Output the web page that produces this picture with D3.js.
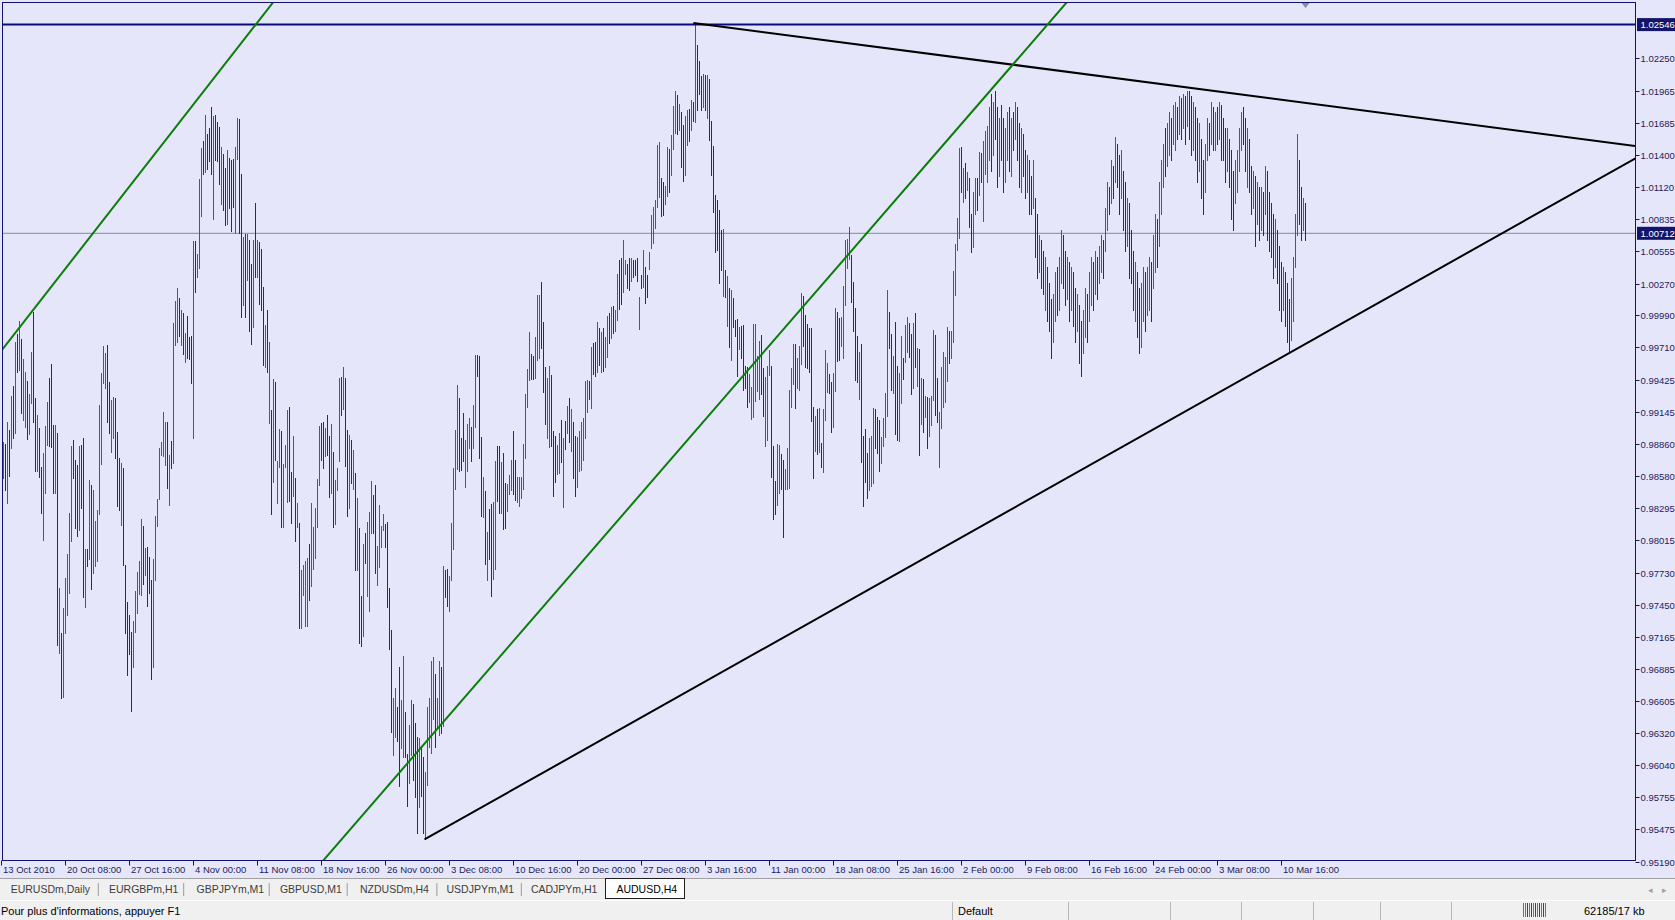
<!DOCTYPE html>
<html><head><meta charset="utf-8">
<script src="https://cdn.jsdelivr.net/npm/d3@7"></script>
<style>
html,body{margin:0;padding:0;background:#E6E6FA;overflow:hidden}
svg{display:block}
</style></head><body>
<svg id="c" width="1675" height="920"></svg>
<script>
// ---- DATA: AUDUSD H4 bars (high / low) ----
const highs = [
0.98881,0.98861,0.99057,0.98984,0.99283,0.99370,0.99760,0.99824,0.99942,0.99780,
0.99605,0.99496,0.99417,0.99300,0.99672,1.00024,0.99262,0.99116,0.98998,0.98662,
0.98779,0.99019,0.99233,0.99438,0.99564,0.99028,0.99028,0.98960,0.97598,0.97203,
0.97417,0.97680,0.97894,0.98257,0.98843,0.98896,0.98720,0.98676,0.98843,0.98852,
0.98910,0.97935,0.97935,0.98544,0.98500,0.98456,0.98187,0.98281,0.99203,0.99482,
0.99722,0.99657,0.99731,0.99408,0.99247,0.99277,0.99262,0.98969,0.98735,0.98691,
0.98647,0.97797,0.97475,0.97358,0.97212,0.97305,0.97569,0.97739,0.97835,0.98199,
0.98140,0.97944,0.97953,0.97871,0.97666,0.97847,0.98228,0.98374,0.98823,0.98881,
0.99145,0.99057,
0.99053,0.98766,0.98890,0.99923,1.00114,1.00231,1.00145,1.00040,1.00009,0.99836,
0.99984,0.99799,0.99806,1.00647,1.00647,1.00533,1.01187,1.01464,1.01526,1.01748,
1.01588,1.01634,1.01819,1.01742,1.01748,1.01687,1.01643,1.01471,1.01409,1.01286,
1.01440,1.01372,1.01357,1.01366,1.01471,1.01727,1.01717,1.01233,1.00678,1.00709,
1.00709,1.00657,1.00441,1.00657,1.00977,1.00657,1.00638,1.00570,1.00237,0.99907,
1.00040,0.99753,0.99158,0.99436,0.99405,0.98714,0.98992,0.98973,0.98683,0.98850,
0.99158,0.99189,0.98612,0.98930,0.98560,0.98344,0.98165,0.97749,0.97795,0.97832,
0.97863,0.97980,0.98344,0.98128,0.98295,0.98551,0.99022,0.99044,0.99053,0.99004,
0.99115,0.98930,
0.99036,0.98793,0.98544,0.98646,0.99437,0.99446,0.99540,0.99437,0.98983,0.98939,
0.98895,0.98807,0.98608,0.98383,0.98119,0.97524,0.97981,0.98075,0.98177,0.98265,
0.98538,0.98412,0.98500,0.97964,0.98324,0.98139,0.98245,0.98157,0.98177,0.97592,
0.97225,0.96625,0.96713,0.96546,0.96903,0.96610,0.96997,0.96508,0.96136,0.96391,
0.96610,0.96575,0.96405,0.96282,0.96273,0.96206,0.96112,0.95980,0.96546,0.96625,
0.96956,0.96991,0.96839,0.96625,0.96956,0.96903,0.97788,0.97753,0.97759,0.97700,
0.98163,0.98646,0.98983,0.99378,0.99261,0.98910,0.99135,0.98895,0.99036,0.99086,
0.99012,0.99203,0.99642,0.99642,0.99633,0.98919,0.98567,0.98450,0.98090,0.98286,
0.98333,0.98353,
0.98711,0.98846,0.98846,0.98699,0.98778,0.98515,0.98506,0.98588,0.98720,0.98975,
0.98720,0.98573,0.98573,0.98573,0.98858,0.99297,0.99520,0.99842,0.99648,0.99637,
0.99804,1.00170,1.00170,1.00287,0.99930,0.99540,0.99438,0.99549,0.99467,0.98975,
0.98934,0.98852,0.98954,0.99071,0.98916,0.99063,0.99197,0.99268,0.99168,0.99057,
0.98934,0.98925,0.98975,0.99051,0.99092,0.99414,0.99423,0.99414,0.99716,0.99745,
0.99760,0.99930,0.99877,0.99848,0.99883,0.99804,0.99988,1.00009,1.00067,1.00076,
1.00038,1.00352,1.00477,1.00492,1.00653,1.00477,1.00439,1.00492,1.00492,1.00477,
1.00477,1.00492,1.00155,1.00346,1.00565,1.00419,1.00346,1.00545,1.00873,1.00943,
1.01004,
1.01491,1.01515,1.01197,1.01161,1.01131,1.01467,1.01455,1.01575,1.01827,1.01964,
1.01925,1.01844,1.01776,1.01665,1.01746,1.01797,1.01806,1.01880,1.01865,1.02550,
1.02367,1.02229,1.02094,1.02112,1.02103,1.02103,1.02068,1.01701,1.01476,1.01047,
1.01005,1.00921,1.00741,1.00747,1.00387,1.00336,1.00231,1.00216,1.00141,0.99947,
0.99962,0.99887,0.99896,0.99902,0.99542,0.99536,0.99476,0.99362,0.99917,0.99917,
0.99638,0.99767,0.99818,0.99527,0.99446,0.99542,0.99686,0.99548,0.98846,0.98537,
0.98858,0.98852,0.98777,0.98717,0.98642,0.98822,0.99332,0.99527,0.99737,0.99737,
0.99617,0.99722,1.00186,1.00165,0.99998,0.99917,0.99878,0.99878,0.99182,0.99107,
0.99167,0.99176,0.98867,
0.99168,0.99686,0.99569,0.99473,0.99402,0.99481,1.00053,1.00017,0.99971,0.99979,
1.00252,1.00653,1.00662,1.00770,1.00521,1.00287,1.00058,0.99812,0.99672,0.99736,
0.98934,0.98992,0.98778,0.98916,0.98934,0.99180,0.99168,0.99101,0.99071,0.98925,
0.99092,0.99306,1.00214,1.00017,0.99824,0.99637,0.99935,0.99549,0.99481,0.99812,
0.99619,0.99906,0.99979,0.99921,0.99824,0.99921,1.00009,0.99707,0.99695,0.99443,
0.99432,0.99285,0.99276,0.99267,0.99285,0.99862,0.99818,0.99443,0.99144,0.99540,
0.99666,0.99628,0.99891,0.99853,0.99853,1.00381,1.00615,1.00843,1.01464,1.01473,
1.01289,1.01327,1.01254,1.01195,1.00879,1.01078,1.01195,1.01195,1.01423,1.01415,
1.01523,1.01611,
1.01654,1.01823,1.01936,1.01870,1.01964,1.01823,1.01729,1.01842,1.01729,1.01635,
1.01776,1.01823,1.01729,1.01776,1.01870,1.01823,1.01682,1.01635,1.01588,1.01447,
1.01400,1.01353,1.01213,1.01353,1.01025,1.00884,1.00696,1.00649,1.00555,1.00508,
1.00414,1.00274,1.00133,1.00180,1.00368,1.00414,1.00508,1.00743,1.00696,1.00555,
1.00508,1.00461,1.00414,1.00368,1.00227,1.00180,1.00086,0.99945,1.00039,1.00227,
1.00180,1.00368,1.00508,1.00461,1.00555,1.00508,1.00602,1.00696,1.00649,1.00931,
1.01166,1.01119,1.01353,1.01307,1.01560,1.01494,1.01400,1.01447,1.01260,1.01166,
1.01025,1.00978,1.00743,1.00555,1.00461,1.00368,1.00227,1.00274,1.00414,1.00368,
1.00414,1.00508,1.00461,1.00696,1.00884,1.00837,1.01166,1.01353,1.01494,1.01635,
1.01682,1.01776,1.01729,1.01842,1.01870,1.01823,1.01917,1.01898,1.01936,1.01917,
1.01964,1.01964,1.01917,1.01870,1.01823,1.01729,1.01682,1.01541,1.01353,1.01494,
1.01729,1.01682,1.01870,1.01823,1.01776,1.01823,1.01870,1.01842,1.01729,1.01635,
1.01635,1.01541,1.01447,1.01260,1.01353,1.01447,1.01635,1.01776,1.01823,1.01729,
1.01635,1.01541,1.01307,1.01260,1.01213,1.01166,1.01119,1.01119,1.01072,1.01307,
1.01260,1.01072,1.00978,1.00884,1.00837,1.00743,1.00602,1.00461,1.00414,1.00368,
1.00274,1.00133,1.00321,1.00508,1.00884,1.01588,1.01353,1.01119,1.01025,1.00978
];
const lows = [
0.98559,0.98456,0.98339,0.98582,0.98823,0.98910,0.98954,0.99496,0.99511,0.99130,
0.99072,0.99007,0.98902,0.98949,0.99224,0.99057,0.98626,0.98626,0.98574,0.98257,
0.98017,0.98433,0.98852,0.98843,0.98837,0.98427,0.98433,0.97094,0.97027,0.96626,
0.96640,0.97203,0.97358,0.97548,0.98011,0.98559,0.98120,0.98052,0.98105,0.98295,
0.97513,0.97425,0.97789,0.97847,0.97584,0.97730,0.97789,0.97835,0.98246,0.98685,
0.99394,0.99350,0.99057,0.98960,0.98793,0.98910,0.98735,0.98316,0.98281,0.98149,
0.97797,0.97197,0.96831,0.97015,0.96517,0.96904,0.97212,0.97373,0.97543,0.97534,
0.97630,0.97709,0.97437,0.97554,0.96793,0.96904,0.97666,0.98140,0.98374,0.98764,
0.98755,0.98676,
0.98474,0.98326,0.98652,0.98695,0.99731,0.99753,0.99806,0.99731,0.99651,0.99583,
0.99620,0.99608,0.99398,0.98911,1.00194,1.00324,1.00410,1.00863,1.01233,1.01255,
1.01273,1.01347,1.01233,1.00842,1.01357,1.01347,1.01141,1.00971,1.00916,1.00786,
1.00792,1.00934,1.00731,1.00940,1.00718,1.01366,1.00718,0.99978,1.00083,0.99978,
1.00299,0.99855,0.99738,0.99886,1.00330,1.00330,1.00092,1.00040,0.99559,0.99537,
0.99491,0.99044,0.98242,0.98529,0.98720,0.98344,0.98659,0.98128,0.98128,0.98659,
0.98350,0.98356,0.98165,0.98406,0.98005,0.98134,0.97246,0.97246,0.97533,0.97265,
0.97265,0.97487,0.97616,0.97758,0.97863,0.98134,0.98504,0.98720,0.98652,0.98757,
0.98766,0.98396,
0.98432,0.98128,0.98157,0.98456,0.98714,0.99115,0.99165,0.98667,0.98227,0.98295,
0.98514,0.98462,0.97753,0.97753,0.97114,0.97085,0.97173,0.97811,0.97524,0.97395,
0.98075,0.98081,0.97723,0.97621,0.97782,0.97952,0.98104,0.97952,0.97425,0.97056,
0.96332,0.96127,0.96282,0.96253,0.95855,0.96186,0.96112,0.96106,0.95679,0.95878,
0.96127,0.95907,0.95761,0.95444,0.95667,0.95767,0.95439,0.95386,0.95863,0.96200,
0.96142,0.96440,0.96200,0.96370,0.96303,0.96317,0.96382,0.97513,0.97436,0.97395,
0.97665,0.97934,0.98462,0.98637,0.98626,0.98632,0.98714,0.98485,0.98626,0.98822,
0.98714,0.98822,0.99006,0.99458,0.98734,0.98227,0.98221,0.97805,0.97665,0.97846,
0.97524,0.97671,
0.97762,0.98360,0.98251,0.98251,0.98114,0.98119,0.98272,0.98418,0.98456,0.98418,
0.98368,0.98348,0.98319,0.98389,0.98465,0.98740,0.99189,0.99423,0.99432,0.99432,
0.99443,0.99599,0.99619,0.99707,0.99315,0.99033,0.98910,0.98837,0.98846,0.98406,
0.98524,0.98594,0.98603,0.98699,0.98310,0.98817,0.98954,0.98875,0.98799,0.98559,
0.98406,0.98486,0.98623,0.98632,0.98720,0.98916,0.99145,0.99256,0.99174,0.99473,
0.99461,0.99496,0.99555,0.99496,0.99502,0.99540,0.99628,0.99745,0.99789,0.99833,
0.99854,0.99950,1.00047,1.00088,1.00199,1.00352,1.00234,1.00214,1.00293,1.00331,
1.00346,1.00293,0.99871,1.00234,1.00243,1.00097,1.00155,1.00398,1.00580,1.00624,
1.00759,
1.00945,1.01035,1.00861,1.00876,1.00966,1.01041,1.01077,1.01221,1.01455,1.01596,
1.01587,1.01617,1.01296,1.01176,1.01227,1.01491,1.01521,1.01617,1.01701,1.01693,
1.01795,1.01936,1.01795,1.01819,1.01795,1.01722,1.01536,1.01221,1.00897,1.00546,
1.00561,1.00276,1.00387,1.00165,1.00156,0.99896,0.99716,0.99596,0.99887,0.99812,
0.99458,0.99692,0.99617,0.99332,0.99356,0.99188,0.99227,0.99077,0.99098,0.99236,
0.99326,0.99257,0.99296,0.99107,0.98846,0.98897,0.99467,0.98567,0.98199,0.98247,
0.98327,0.98426,0.98462,0.98043,0.98468,0.98468,0.98477,0.99182,0.99392,0.99176,
0.99356,0.99332,0.99566,0.99722,0.99536,0.99527,0.99497,0.99062,0.98558,0.98798,
0.98777,0.98786,0.98657,
0.98617,0.99071,0.99314,0.99306,0.98969,0.99013,0.99326,0.99590,0.99598,0.99724,
0.99619,1.00082,1.00404,1.00486,1.00111,0.99853,0.99423,0.99402,0.99256,0.98705,
0.98318,0.98523,0.98389,0.98456,0.98494,0.98515,0.98828,0.98778,0.98623,0.98690,
0.98846,0.98925,0.99109,0.99701,0.99335,0.99306,0.98945,0.98895,0.98887,0.99218,
0.99432,0.99578,0.99666,0.99628,0.99297,0.99355,0.99540,0.99373,0.98764,0.99033,
0.98969,0.99101,0.98828,0.98934,0.99027,0.99247,0.99115,0.99057,0.98661,0.99004,
0.99188,0.99226,0.99414,0.99569,0.99619,0.99754,1.00170,1.00565,1.00668,1.01078,
1.00990,1.01025,1.01092,1.00770,1.00545,1.00594,1.00879,1.00917,1.01049,1.01160,
1.00820,1.01230,
1.01166,1.01353,1.01260,1.01400,1.01541,1.01119,1.01213,1.01353,1.01072,1.01166,
1.01353,1.01260,1.01213,1.01447,1.01541,1.01353,1.01119,1.01072,1.01213,1.01025,
1.01072,1.00884,1.00884,1.00931,1.00508,1.00321,1.00368,1.00227,1.00180,1.00039,
0.99945,0.99851,0.99616,0.99757,0.99945,0.99992,1.00039,1.00274,1.00227,1.00086,
1.00133,0.99945,1.00039,0.99898,0.99757,0.99851,0.99569,0.99457,0.99663,0.99804,
0.99757,0.99945,1.00086,1.00039,1.00180,1.00133,1.00274,1.00368,1.00321,1.00555,
1.00743,1.00884,1.00978,1.01025,1.01166,1.01119,1.00884,1.01025,1.00743,1.00555,
1.00602,1.00321,1.00274,1.00039,0.99945,0.99804,0.99663,0.99710,0.99945,0.99851,
0.99992,1.00039,0.99945,1.00227,1.00368,1.00414,1.00602,1.00884,1.01119,1.01213,
1.01307,1.01400,1.01353,1.01494,1.01447,1.01541,1.01588,1.01541,1.01635,1.01494,
1.01654,1.01541,1.01400,1.01447,1.01353,1.01166,1.01260,1.01025,1.00884,1.01072,
1.01353,1.01400,1.01494,1.01447,1.01447,1.01494,1.01541,1.01353,1.01353,1.01166,
1.01260,1.01119,1.00837,1.00743,1.00978,1.01072,1.01260,1.01447,1.01494,1.01260,
1.01119,1.01072,1.00884,1.00931,1.00602,1.00790,1.00649,1.00743,1.00696,1.00884,
1.00649,1.00555,1.00508,1.00321,1.00414,1.00274,1.00039,0.99945,1.00039,0.99898,
0.99757,0.99670,0.99776,0.99945,1.00414,1.00696,1.00790,1.00649,1.00743,1.00649
];
// bar direction: g = bullish (close > open), r = bearish
const dirs = (
"grgrgrgrgr"+"ggrggrrgrr"+"gggrrrgrgr"+"gggggrrrgr"+"rgrgrggggg"+"ggrrggrrrg"+"rrrrrggggg"+"rgrrrggggg"+
"ggrgrgggrg"+"rgrrrgrggg"+"rgrrrgrrrg"+"rrgrrrggrr"+"grgrrgrgrr"+"rgrgrgrggr"+"gggrrgrgrg"+"gggrgggggr"+
"rgrrgrgggr"+"grrgrgrgrr"+"grgggrrggg"+"grrrrggrrg"+"grrggrrrgr"+"rgggggrggr"+"grrgggggrr"+"rgggrggrrr"+
"grgrrggrrg"+"rrgggrrggg"+"ggggrrgggr"+"rrggrrrggr"+"grgrgrrggg"+"gggrgrrgrg"+"rggrgrggrr"+"ggrrgrrrgr"+
"grrggggggr"+"rggrgggrgr"+"rggrgrgrrr"+"grgrrrrrrr"+"grgrgrrrgr"+"rrrggggggr"+"rgggrrrggr"+"rgggggrggg"+
"rrrrrrgrgr"+"gggrrggrrg"+"ggggrrrrgr"+"rrrgggrrrg"+"gggrrgrrgg"+"rggrrgrgrg"+"rgrgggrrgg"+"gggrgggggr"+
"grgrrggrgr"+"gg"+
"ggrgrrgrrg"+"grgrgrrgrr"+"grrgrrgrrg"+"rrrggrggrr"+"grgrrgrrgg"+"rggrgrggrg"+"grgrgrrgrr"+"grrrgrrggr"+
"ggrggrgggr"+"ggrggrgrgr"+"grrgrrgrrg"+"grgrgrgrrr"+"grrrggggrr"+"grrgrgrgrg"+"rrrrgrrrgr"+"rrggggrrgr");

const priceTicks = [1.02250,1.01965,1.01685,1.01400,1.01120,1.00835,1.00555,1.00270,0.99990,0.99710,
  0.99425,0.99145,0.98860,0.98580,0.98295,0.98015,0.97730,0.97450,0.97165,0.96885,0.96605,0.96320,
  0.96040,0.95755,0.95475,0.95190];
const levelLine = 1.02546;   // horizontal line (navy)
const bidLine = 1.00712;     // current price line (grey)
const timeLabels = ["13 Oct 2010","20 Oct 08:00","27 Oct 16:00","4 Nov 00:00","11 Nov 08:00","18 Nov 16:00",
  "26 Nov 00:00","3 Dec 08:00","10 Dec 16:00","20 Dec 00:00","27 Dec 08:00","3 Jan 16:00","11 Jan 00:00",
  "18 Jan 08:00","25 Jan 16:00","2 Feb 00:00","9 Feb 08:00","16 Feb 16:00","24 Feb 00:00","3 Mar 08:00","10 Mar 16:00"];
const barsPerLabel = 32;
// trend lines: [bar, price] anchors
const trendLines = [
  {a:[210.5,0.95386], b:[816.25,1.01374], color:"#000000", ray:"right"},
  {a:[344.9,1.02560], b:[816.25,1.01479], color:"#000000", ray:"right"},
  {a:[-0.4,0.99695],  b:[134.45,1.02734], color:"#0a7d0a", ray:"both"},
  {a:[160.1,0.95205], b:[531.25,1.02734], color:"#0a7d0a", ray:"both"}
];
const tabs = ["EURUSDm,Daily","EURGBPm,H1","GBPJPYm,M1","GBPUSD,M1","NZDUSDm,H4","USDJPYm,M1","CADJPYm,H1","AUDUSD,H4"];
const activeTab = "AUDUSD,H4";
const statusLeft = "Pour plus d'informations, appuyer F1";
const statusProfile = "Default";
const statusTraffic = "62185/17 kb";

// ---- LAYOUT ----
const svg = d3.select("#c");
const P = {l:2.5, r:1635.5, t:2.5, b:860.5};
const nBars = highs.length;
const x = d3.scaleLinear().domain([0, nBars-1]).range([3.5, 3.5 + 2*(nBars-1)]);
const y = d3.scaleLinear().domain([0.95190, 1.02546]).range([861.7, 24.6]);
const FONT = "'Liberation Sans', Arial, sans-serif";

svg.append("rect").attr("width",1675).attr("height",920).attr("fill","#E6E6FA");
svg.append("clipPath").attr("id","clip").append("rect")
  .attr("x",P.l+0.5).attr("y",P.t+0.5).attr("width",P.r-P.l-1).attr("height",P.b-P.t-1);

const plot = svg.append("g").attr("clip-path","url(#clip)");

// current price line
plot.append("line").attr("x1",P.l).attr("x2",P.r).attr("y1",y(bidLine)).attr("y2",y(bidLine))
  .attr("stroke","#7f8aa0").attr("stroke-width",1);

// bars
const bars = highs.map((h,i)=>({i, h, l:lows[i], d:dirs[i]}));
plot.append("g").attr("shape-rendering","crispEdges").selectAll("line").data(bars).join("line")
  .attr("x1",d=>x(d.i)).attr("x2",d=>x(d.i))
  .attr("y1",d=>Math.round(y(d.h))).attr("y2",d=>Math.round(y(d.l))+1)
  .attr("stroke",d=>d.d==="g"?"#128a12":"#8b0b0b").attr("stroke-width",1);

plot.append("line").attr("x1",P.l).attr("x2",P.r).attr("y1",y(levelLine)).attr("y2",y(levelLine))
  .attr("stroke","#0a0a80").attr("stroke-width",2);

// trend lines
trendLines.forEach(t=>{
  const x1=x(t.a[0]), y1=y(t.a[1]), x2=x(t.b[0]), y2=y(t.b[1]);
  const s=(y2-y1)/(x2-x1);
  const xs = t.ray==="both" ? P.l-5 : x1;
  const xe = P.r+5;
  plot.append("line").attr("x1",xs).attr("y1",y1+s*(xs-x1)).attr("x2",xe).attr("y2",y1+s*(xe-x1))
    .attr("stroke",t.color).attr("stroke-width",2);
});

// frame
svg.append("rect").attr("x",P.l).attr("y",P.t).attr("width",P.r-P.l).attr("height",P.b-P.t)
  .attr("fill","none").attr("stroke","#141466").attr("stroke-width",1);

// chart-shift marker
svg.append("path").attr("d",`M${x(nBars-1)-4},3 L${x(nBars-1)+4},3 L${x(nBars-1)},8 Z`).attr("fill","#8a8aa8");

// price axis
const pa = svg.append("g").attr("font-family",FONT).attr("font-size","9.5px");
priceTicks.forEach(p=>{
  const yy = Math.round(y(p))+0.5;
  pa.append("line").attr("x1",P.r).attr("x2",P.r+4).attr("y1",yy).attr("y2",yy).attr("stroke","#141466");
  pa.append("text").attr("x",P.r+5).attr("y",yy).attr("dy","0.35em").attr("fill","#1c1c5c").text(p.toFixed(5));
});
[levelLine,bidLine].forEach(p=>{
  const yy = y(p);
  pa.append("rect").attr("x",P.r+1.5).attr("y",yy-6.5).attr("width",40).attr("height",13).attr("fill","#14146a");
  pa.append("text").attr("x",P.r+5).attr("y",yy).attr("dy","0.35em").attr("fill","#ffffff").text(p.toFixed(5));
});

// time axis
const ta = svg.append("g").attr("font-family",FONT).attr("font-size","9.5px");
timeLabels.forEach((t,k)=>{
  const xx = Math.round(x(k*barsPerLabel))-2.5;
  ta.append("line").attr("x1",xx).attr("x2",xx).attr("y1",P.b).attr("y2",P.b+5).attr("stroke","#141466");
  ta.append("text").attr("x",xx+1.5).attr("y",873).attr("fill","#1c1c5c").text(t);
});

// tab strip
const tb = svg.append("g").attr("font-family",FONT).attr("font-size","10.5px");
tb.append("rect").attr("x",0).attr("y",878).attr("width",1675).attr("height",22).attr("fill","#f0f0f0");
tb.append("line").attr("x1",0).attr("x2",1675).attr("y1",878.5).attr("y2",878.5).attr("stroke","#a0a0a0");
const tabX = [10.7,109,196.5,279.9,360,446.5,530.9,616.4];
const divX = [98.3,183.7,269.2,347.2,436.9,521.3,604.6];
tb.append("rect").attr("x",605.5).attr("y",878.5).attr("width",79).attr("height",20).attr("fill","#ffffff").attr("stroke","#202020");
tabs.forEach((t,i)=>{
  tb.append("text").attr("x",tabX[i]).attr("y",893).attr("fill",t===activeTab?"#000":"#3c3c3c").text(t);
});
divX.slice(0,6).forEach(d=>tb.append("line").attr("x1",d).attr("x2",d).attr("y1",883).attr("y2",896).attr("stroke","#9a9a9a"));
tb.append("text").attr("x",1648).attr("y",893).attr("fill","#a0a0a0").attr("font-size","9px").text("◂");
tb.append("text").attr("x",1662).attr("y",893).attr("fill","#a0a0a0").attr("font-size","9px").text("▸");

// status bar
const sb = svg.append("g").attr("font-family",FONT).attr("font-size","11px");
sb.append("rect").attr("x",0).attr("y",900).attr("width",1675).attr("height",20).attr("fill","#f0f0f0");
sb.append("line").attr("x1",0).attr("x2",1675).attr("y1",900.5).attr("y2",900.5).attr("stroke","#ffffff");
sb.append("text").attr("x",1).attr("y",915).attr("fill","#000").text(statusLeft);
sb.append("text").attr("x",958).attr("y",915).attr("fill","#000").text(statusProfile);
sb.append("text").attr("x",1584).attr("y",915).attr("fill","#000").text(statusTraffic);
[952.5,1068.5,1170.5,1241.5,1313.5,1380.5,1451.5].forEach(d=>
  sb.append("line").attr("x1",d).attr("x2",d).attr("y1",902).attr("y2",920).attr("stroke","#b8b8b8"));
const sig = [[0,"#3a9a3a"],[2,"#3a9a3a"],[4,"#a02020"],[6,"#3a9a3a"],[8,"#a02020"],[10,"#3a9a3a"],[12,"#a02020"],[14,"#3a9a3a"],[16,"#a02020"],[18,"#3a9a3a"],[20,"#a02020"],[22,"#3a9a3a"]];
sig.forEach(([o,c])=>sb.append("rect").attr("x",1523+o).attr("y",903).attr("width",1).attr("height",14).attr("fill",c));
</script>
</body></html>
